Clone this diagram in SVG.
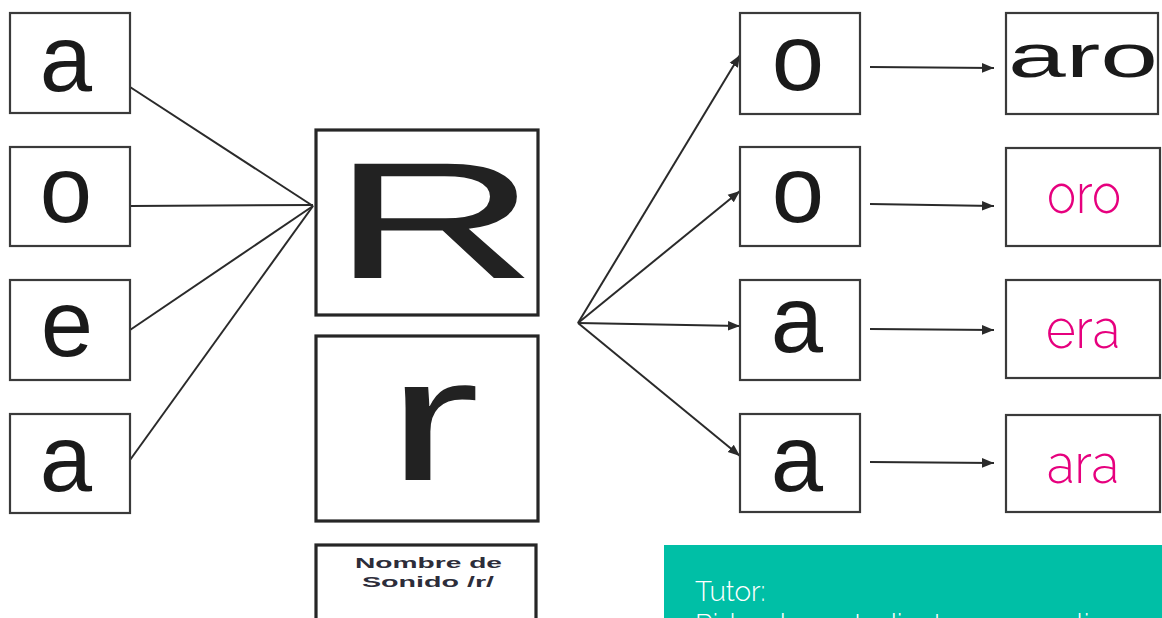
<svg xmlns="http://www.w3.org/2000/svg" width="1162" height="618" viewBox="0 0 1162 618">
<style>
.box{fill:#fff;stroke:#3a3a3a;stroke-width:2.2}
.big{fill:#fff;stroke:#262626;stroke-width:3.2}
.ltr{font-family:"Liberation Sans",Arial,sans-serif;font-size:94px;fill:#1a1a1a;text-anchor:middle}
.pink{font-family:Raleway,Lato,"Open Sans",sans-serif;font-weight:300;font-size:54px;fill:#e6007e;text-anchor:middle}
.ln{stroke:#2a2a2a;stroke-width:2;fill:none}
.tut{font-family:Raleway,Lato,"Open Sans",sans-serif;font-weight:300;font-size:28px;fill:#fff}
</style>
<defs>
<marker id="ah" viewBox="0 0 10 10" refX="10" refY="5" markerWidth="6" markerHeight="6" orient="auto" markerUnits="strokeWidth">
<path d="M0,1 L10,5 L0,9 z" fill="#2a2a2a"/>
</marker>
</defs>
<rect width="1162" height="618" fill="#fff"/>

<g id="connectors">
<line class="ln" x1="130" y1="87" x2="313" y2="206"/>
<line class="ln" x1="130" y1="206" x2="313" y2="205"/>
<line class="ln" x1="130" y1="330" x2="313" y2="206"/>
<line class="ln" x1="130" y1="460" x2="313" y2="206"/>
<line class="ln" x1="578" y1="323" x2="740" y2="55" marker-end="url(#ah)"/>
<line class="ln" x1="578" y1="323" x2="740" y2="191" marker-end="url(#ah)"/>
<line class="ln" x1="578" y1="323" x2="740" y2="326" marker-end="url(#ah)"/>
<line class="ln" x1="578" y1="323" x2="740" y2="456" marker-end="url(#ah)"/>
<line class="ln" x1="870" y1="67" x2="994" y2="68" marker-end="url(#ah)"/>
<line class="ln" x1="870" y1="204" x2="994" y2="206" marker-end="url(#ah)"/>
<line class="ln" x1="870" y1="329" x2="994" y2="330" marker-end="url(#ah)"/>
<line class="ln" x1="870" y1="462" x2="994" y2="463" marker-end="url(#ah)"/>
</g>

<g id="left-a1"><rect class="box" x="10" y="13" width="120" height="100"/><text class="ltr" x="66" y="91">a</text></g>
<g id="left-o"><rect class="box" x="10" y="147" width="120" height="99"/><text class="ltr" x="66" y="222">o</text></g>
<g id="left-e"><rect class="box" x="10" y="280" width="120" height="100"/><text class="ltr" x="67" y="356">e</text></g>
<g id="left-a2"><rect class="box" x="10" y="414" width="120" height="99"/><text class="ltr" x="66" y="491">a</text></g>

<g id="R-upper"><rect class="big" x="316" y="130" width="222" height="185"/>
<text x="331" y="278" textLength="207" lengthAdjust="spacingAndGlyphs" style="font-family:'Liberation Sans',Arial,sans-serif;font-size:166px;fill:#222">R</text></g>
<g id="r-lower"><rect class="big" x="316" y="336" width="222" height="185"/>
<text x="386" y="480" textLength="94" lengthAdjust="spacingAndGlyphs" style="font-family:'Liberation Sans',Arial,sans-serif;font-size:176px;fill:#222">r</text></g>
<g id="nombre"><rect class="big" x="316" y="545" width="220" height="90"/>
<text x="355" y="568" textLength="147" lengthAdjust="spacingAndGlyphs" style="font-family:'Liberation Sans',Arial,sans-serif;font-weight:bold;font-size:15px;fill:#2d2d3a">Nombre de</text>
<text x="362" y="587" textLength="132" lengthAdjust="spacingAndGlyphs" style="font-family:'Liberation Sans',Arial,sans-serif;font-weight:bold;font-size:15px;fill:#2d2d3a">Sonido /r/</text></g>

<g id="mid-o1"><rect class="box" x="740" y="13" width="120" height="101"/><text class="ltr" x="798" y="90">o</text></g>
<g id="mid-o2"><rect class="box" x="740" y="147" width="120" height="99"/><text class="ltr" x="798" y="222">o</text></g>
<g id="mid-a1"><rect class="box" x="740" y="280" width="120" height="100"/><text class="ltr" x="797" y="352">a</text></g>
<g id="mid-a2"><rect class="box" x="740" y="414" width="120" height="98"/><text class="ltr" x="797" y="491">a</text></g>

<g id="w-aro"><rect class="box" x="1006" y="13" width="152" height="101"/>
<text x="1008" y="77" textLength="150" lengthAdjust="spacingAndGlyphs" style="font-family:'Liberation Sans',Arial,sans-serif;font-size:62px;fill:#1a1a1a">aro</text></g>
<g id="w-oro"><rect class="box" x="1006" y="148" width="154" height="98"/><text class="pink" x="1084" y="213" textLength="74" lengthAdjust="spacingAndGlyphs">oro</text></g>
<g id="w-era"><rect class="box" x="1006" y="280" width="154" height="98"/><text class="pink" x="1083" y="348" textLength="74" lengthAdjust="spacingAndGlyphs">era</text></g>
<g id="w-ara"><rect class="box" x="1006" y="415" width="154" height="97"/><text class="pink" x="1083" y="483" textLength="72" lengthAdjust="spacingAndGlyphs">ara</text></g>

<g id="tutor">
<rect x="664" y="545" width="498" height="80" fill="#00bfa6"/>
<text class="tut" x="695" y="601">Tutor:</text>
<text class="tut" x="695" y="634">Pida a los estudiantes que realicen</text>
</g>
</svg>
